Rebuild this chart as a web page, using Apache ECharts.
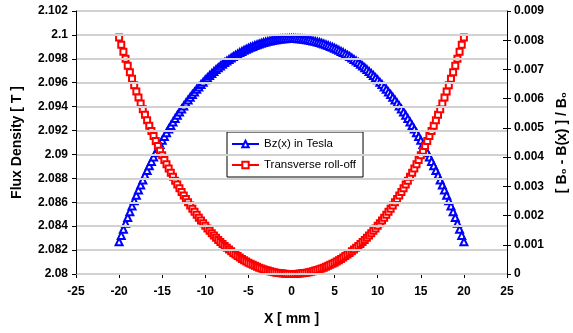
<!DOCTYPE html>
<html lang="en" style="height: 100%">

<head>
  <meta charset="utf-8">
  <style>
    html,
    body {
      margin: 0;
      padding: 0;
      width: 100%;
      height: 100%;
      overflow: hidden;
      background: #fff;
    }
  </style>
</head>

<body>
  <div id="container" style="height: 100%;width: 100%;"></div>

  <script type="text/javascript" src="https://cdn.jsdelivr.net/npm/echarts@6/dist/echarts.min.js"></script>
  <script type="text/javascript">

    var dom = document.getElementById('container');
    var myChart = echarts.init(dom, null, { renderer: 'canvas' });

    let legendItem = ['Bz(x) in Tesla', 'Transverse roll-off'];
    let color = ['#0000ff', '#ff0000'];
    let fontFamily = 'Liberation Sans, Arial, sans-serif';

    // X [ mm ]
    let xData = [
      -20, -19.75, -19.5, -19.25, -19, -18.75, -18.5, -18.25, -18, -17.75, -17.5, -17.25, -17, -16.75, -16.5, -16.25,
      -16, -15.75, -15.5, -15.25, -15, -14.75, -14.5, -14.25, -14, -13.75, -13.5, -13.25, -13, -12.75, -12.5, -12.25,
      -12, -11.75, -11.5, -11.25, -11, -10.75, -10.5, -10.25, -10, -9.75, -9.5, -9.25, -9, -8.75, -8.5, -8.25,
      -8, -7.75, -7.5, -7.25, -7, -6.75, -6.5, -6.25, -6, -5.75, -5.5, -5.25, -5, -4.75, -4.5, -4.25,
      -4, -3.75, -3.5, -3.25, -3, -2.75, -2.5, -2.25, -2, -1.75, -1.5, -1.25, -1, -0.75, -0.5, -0.25,
      0,
      0.25, 0.5, 0.75, 1, 1.25, 1.5, 1.75, 2, 2.25, 2.5, 2.75, 3, 3.25, 3.5, 3.75, 4,
      4.25, 4.5, 4.75, 5, 5.25, 5.5, 5.75, 6, 6.25, 6.5, 6.75, 7, 7.25, 7.5, 7.75, 8,
      8.25, 8.5, 8.75, 9, 9.25, 9.5, 9.75, 10, 10.25, 10.5, 10.75, 11, 11.25, 11.5, 11.75, 12,
      12.25, 12.5, 12.75, 13, 13.25, 13.5, 13.75, 14, 14.25, 14.5, 14.75, 15, 15.25, 15.5, 15.75, 16,
      16.25, 16.5, 16.75, 17, 17.25, 17.5, 17.75, 18, 18.25, 18.5, 18.75, 19, 19.25, 19.5, 19.75, 20
    ];

    // Bz(x) in Tesla
    let bzData = [
      2.08270, 2.08323, 2.08374, 2.08424, 2.08473, 2.08521, 2.08568, 2.08613, 2.08658, 2.08702, 2.08744, 2.08786, 2.08826, 2.08866, 2.08905, 2.08942,
      2.08979, 2.09015, 2.09050, 2.09084, 2.09118, 2.09150, 2.09182, 2.09212, 2.09242, 2.09272, 2.09300, 2.09328, 2.09355, 2.09381, 2.09406, 2.09431,
      2.09455, 2.09479, 2.09501, 2.09523, 2.09545, 2.09565, 2.09586, 2.09605, 2.09624, 2.09642, 2.09660, 2.09677, 2.09694, 2.09710, 2.09725, 2.09740,
      2.09755, 2.09769, 2.09782, 2.09795, 2.09807, 2.09819, 2.09830, 2.09841, 2.09852, 2.09861, 2.09871, 2.09880, 2.09888, 2.09897, 2.09904, 2.09911,
      2.09918, 2.09925, 2.09930, 2.09936, 2.09941, 2.09946, 2.09950, 2.09954, 2.09957, 2.09960, 2.09963, 2.09965, 2.09967, 2.09968, 2.09969, 2.09970,
      2.09970,
      2.09970, 2.09969, 2.09968, 2.09967, 2.09965, 2.09963, 2.09960, 2.09957, 2.09954, 2.09950, 2.09946, 2.09941, 2.09936, 2.09930, 2.09925, 2.09918,
      2.09911, 2.09904, 2.09897, 2.09888, 2.09880, 2.09871, 2.09861, 2.09852, 2.09841, 2.09830, 2.09819, 2.09807, 2.09795, 2.09782, 2.09769, 2.09755,
      2.09740, 2.09725, 2.09710, 2.09694, 2.09677, 2.09660, 2.09642, 2.09624, 2.09605, 2.09586, 2.09565, 2.09545, 2.09523, 2.09501, 2.09479, 2.09455,
      2.09431, 2.09406, 2.09381, 2.09355, 2.09328, 2.09300, 2.09272, 2.09242, 2.09212, 2.09182, 2.09150, 2.09118, 2.09084, 2.09050, 2.09015, 2.08979,
      2.08942, 2.08905, 2.08866, 2.08826, 2.08786, 2.08744, 2.08702, 2.08658, 2.08613, 2.08568, 2.08521, 2.08473, 2.08424, 2.08374, 2.08323, 2.08270
    ];

    // [ B0 - B(x) ] / B0
    let rollData = [
      0.008096, 0.007846, 0.007602, 0.007363, 0.007130, 0.006902, 0.006679, 0.006461, 0.006249, 0.006041, 0.005838, 0.005640, 0.005447, 0.005258, 0.005074, 0.004894,
      0.004719, 0.004548, 0.004381, 0.004218, 0.004060, 0.003905, 0.003755, 0.003608, 0.003465, 0.003326, 0.003191, 0.003059, 0.002931, 0.002806, 0.002685, 0.002567,
      0.002452, 0.002341, 0.002232, 0.002127, 0.002025, 0.001927, 0.001831, 0.001738, 0.001648, 0.001560, 0.001476, 0.001394, 0.001315, 0.001239, 0.001165, 0.001094,
      0.001026, 0.000959, 0.000896, 0.000835, 0.000776, 0.000720, 0.000665, 0.000614, 0.000564, 0.000517, 0.000472, 0.000429, 0.000388, 0.000350, 0.000313, 0.000279,
      0.000247, 0.000217, 0.000188, 0.000162, 0.000138, 0.000116, 0.000096, 0.000077, 0.000061, 0.000047, 0.000034, 0.000024, 0.000015, 0.000009, 0.000004, 0.000001,
      0,
      0.000001, 0.000004, 0.000009, 0.000015, 0.000024, 0.000034, 0.000047, 0.000061, 0.000077, 0.000096, 0.000116, 0.000138, 0.000162, 0.000188, 0.000217, 0.000247,
      0.000279, 0.000313, 0.000350, 0.000388, 0.000429, 0.000472, 0.000517, 0.000564, 0.000614, 0.000665, 0.000720, 0.000776, 0.000835, 0.000896, 0.000959, 0.001026,
      0.001094, 0.001165, 0.001239, 0.001315, 0.001394, 0.001476, 0.001560, 0.001648, 0.001738, 0.001831, 0.001927, 0.002025, 0.002127, 0.002232, 0.002341, 0.002452,
      0.002567, 0.002685, 0.002806, 0.002931, 0.003059, 0.003191, 0.003326, 0.003465, 0.003608, 0.003755, 0.003905, 0.004060, 0.004218, 0.004381, 0.004548, 0.004719,
      0.004894, 0.005074, 0.005258, 0.005447, 0.005640, 0.005838, 0.006041, 0.006249, 0.006461, 0.006679, 0.006902, 0.007130, 0.007363, 0.007602, 0.007846, 0.008096
    ];

    let axisLabelStyle = {
      color: '#000',
      fontFamily: fontFamily,
      fontWeight: 'bold',
      fontSize: 12
    };
    let axisNameStyle = {
      color: '#000',
      fontFamily: fontFamily,
      fontWeight: 'bold',
      fontSize: 14
    };

    let option = {
      animation: false,
      backgroundColor: '#fff',
      color: color,
      grid: {
        left: 76,
        right: 66,
        top: 11,
        bottom: 59,
        containLabel: false,
        outerBoundsMode: 'none'
      },
      legend: {
        orient: 'vertical',
        left: 227,
        top: 132,
        data: legendItem,
        itemWidth: 27,
        itemHeight: 8,
        itemGap: 9,
        padding: [6, 7, 6, 4],
        borderColor: '#000',
        borderWidth: 1,
        borderRadius: 0,
        backgroundColor: '#fff',
        textStyle: {
          color: '#000',
          fontFamily: fontFamily,
          fontSize: 11.5
        }
      },
      xAxis: {
        type: 'value',
        min: -25,
        max: 25,
        interval: 5,
        name: 'X [ mm ]',
        nameLocation: 'middle',
        nameGap: 38,
        nameTextStyle: axisNameStyle,
        axisLine: { show: true, onZero: false, lineStyle: { color: '#000', width: 1 } },
        axisTick: { show: true, length: 4, lineStyle: { color: '#000' } },
        axisLabel: Object.assign({ margin: 12 }, axisLabelStyle),
        splitLine: { show: false }
      },
      yAxis: [{
        type: 'value',
        position: 'left',
        min: 2.08,
        max: 2.102,
        interval: 0.002,
        name: 'Flux Density [ T ]',
        nameLocation: 'middle',
        nameRotate: 90,
        nameGap: 52,
        nameTextStyle: axisNameStyle,
        axisLine: { show: true, onZero: false, lineStyle: { color: '#000', width: 1 } },
        axisTick: { show: true, length: 4, lineStyle: { color: '#000' } },
        axisLabel: Object.assign({ margin: 8 }, axisLabelStyle),
        splitLine: {
          show: true,
          lineStyle: { color: '#d2d2d2', width: 2 }
        },
        z: 5
      }, {
        type: 'value',
        position: 'right',
        min: 0,
        max: 0.009,
        interval: 0.001,
        name: '[ B\u2080 - B(x) ] / B\u2080',
        nameLocation: 'middle',
        nameRotate: 90,
        nameGap: 47,
        nameTextStyle: axisNameStyle,
        axisLine: { show: true, onZero: false, lineStyle: { color: '#000', width: 1 } },
        axisTick: { show: true, length: 4, lineStyle: { color: '#000' } },
        axisLabel: Object.assign({ margin: 7 }, axisLabelStyle),
        splitLine: { show: false }
      }, {
        // inner half of the crossing ticks on the right axis
        type: 'value',
        position: 'right',
        min: 0,
        max: 0.009,
        interval: 0.001,
        axisLine: { show: false, onZero: false },
        axisTick: { show: true, inside: true, length: 4, lineStyle: { color: '#000' } },
        axisLabel: { show: false },
        splitLine: { show: false }
      }],
      series: [{
        name: legendItem[0],
        type: 'line',
        yAxisIndex: 0,
        symbol: 'emptyTriangle',
        symbolSize: 7,
        showAllSymbol: true,
        lineStyle: { color: color[0], width: 1 },
        itemStyle: { color: color[0], borderWidth: 1 },
        data: xData.map((x, i) => [x, bzData[i]])
      }, {
        name: legendItem[1],
        type: 'line',
        yAxisIndex: 1,
        symbol: 'emptyRect',
        symbolSize: 6,
        showAllSymbol: true,
        lineStyle: { color: color[1], width: 1 },
        itemStyle: { color: color[1], borderWidth: 1 },
        data: xData.map((x, i) => [x, rollData[i]])
      }]
    };

    myChart.setOption(option);

    window.addEventListener('resize', myChart.resize);

  </script>
</body>

</html>
